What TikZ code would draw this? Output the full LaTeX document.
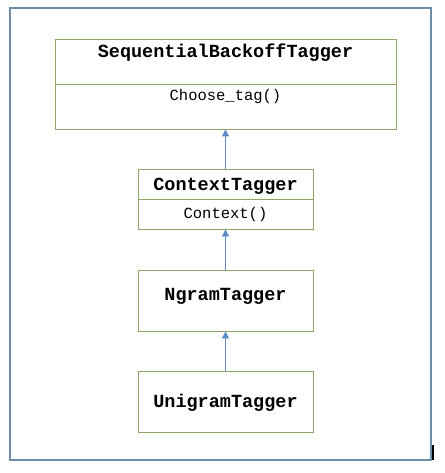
\documentclass[tikz,border=0pt]{standalone}
\usepackage{fontspec}
\setmonofont{Liberation Mono}
\usepackage{tikz}
\usetikzlibrary{arrows.meta}

\definecolor{framecol}{RGB}{108,140,168}
\definecolor{boxcol}{RGB}{140,168,100}
\definecolor{linkcol}{RGB}{94,140,198}

\begin{document}
\begin{tikzpicture}[x=1pt,y=-1pt,
    classbox/.style={draw=boxcol,line width=0.8pt,inner sep=0pt},
    classname/.style={anchor=base,font=\ttfamily\bfseries\fontsize{18.5}{18.5}\selectfont},
    method/.style={anchor=base,font=\ttfamily\fontsize{15.5}{15.5}\selectfont},
    inherit/.style={linkcol,line width=0.8pt,-{Triangle[length=7pt,width=7pt]}}]
    \useasboundingbox (0,0) rectangle (444,473);
    \draw [framecol,line width=2pt] (10,8) rectangle (431,460);
    \draw [black,line width=1.2pt] (433,445)--(433,460);

    % class boxes
    \node [classbox,minimum width=341pt,minimum height=90pt] (seq) at (225.5,84) {};
    \node [classbox,minimum width=175pt,minimum height=60pt] (ctx) at (225.5,199) {};
    \node [classbox,minimum width=175pt,minimum height=61pt] (ngram) at (225.5,300.5) {};
    \node [classbox,minimum width=175pt,minimum height=61pt] (unigram) at (225.5,401.5) {};
    \draw [boxcol,line width=0.8pt] (seq.west)--(seq.east);
    \draw [boxcol,line width=0.8pt] (ctx.west)--(ctx.east);

    % names and methods
    \node [classname] (seqname) at (225.5,58) {SequentialBackoffTagger};
    \node [method] (seqtag) at (225.5,101) {Choose\_tag()};
    \node [classname] (ctxname) at (225.5,190) {ContextTagger};
    \node [method] (ctxfun) at (225.5,218) {Context()};
    \node [classname] (ngramname) at (225.5,300) {NgramTagger};
    \node [classname] (uniname) at (225.5,407) {UnigramTagger};

    \draw [inherit] (ctx.north)--(seq.south);
    \draw [inherit] (ngram.north)--(ctx.south);
    \draw [inherit] (unigram.north)--(ngram.south);
\end{tikzpicture}
\end{document}
